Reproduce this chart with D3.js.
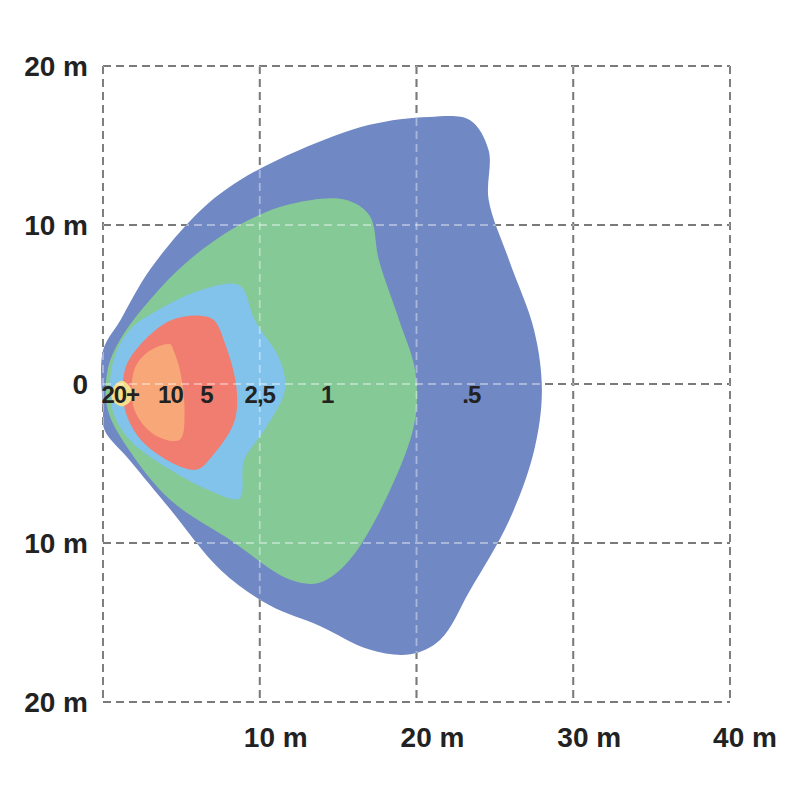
<!DOCTYPE html>
<html><head><meta charset="utf-8">
<script src="https://cdn.jsdelivr.net/npm/d3@7"></script>
<style>body{margin:0;background:#fff}</style>
</head><body>
<svg id="c" width="800" height="800"></svg>
<script>
// zone outlines, [x m, y m]
var zone05 = [[0,2.1],[1.1,4.0],[3,7.2],[6.2,10.9],[8.7,12.8],[12.5,14.7],[17,16.3],[20.8,16.8],[23.4,16.6],[24.6,14.7],[24.6,11.6],[25.9,7.8],[27.5,3.4],[28,-0.4],[27.5,-4.2],[25.9,-8.6],[23.4,-13],[21.5,-16.1],[19.6,-17],[17,-16.7],[13.8,-15.2],[10.6,-13.9],[7.5,-11.7],[4.3,-7.9],[1.7,-4.8],[0.1,-2.9],[0,-1.6]];
var zone1 = [[15.4,11.6],[11.9,11.3],[8.7,10],[5.5,7.8],[3,5.3],[1.1,2.8],[0.3,0.9],[0.3,-1.6],[1.7,-4.2],[4.3,-7.3],[8.1,-9.8],[11.9,-12.3],[13.8,-12.5],[15.7,-11.1],[18.3,-6.7],[19.9,-2.3],[19.9,0.9],[18.9,4],[17.6,7.8],[17,10.6]];
var zone25 = [[8.7,6.2],[6.2,5.9],[3.6,4.7],[1.7,3.4],[0.6,1.2],[0.6,-1.6],[1.7,-3.5],[4.3,-5.4],[6.8,-6.7],[8.7,-7.2],[9.0,-4.8],[10.3,-2.9],[11.6,-0.4],[11.3,1.5],[9.7,4]];
var zone5 = [[6.2,4.3],[4.3,4],[2.4,2.5],[1.4,0.9],[1.4,-1.6],[2.7,-3.8],[5.9,-5.4],[7,-4.5],[8.4,-2.3],[8.5,-0.1],[7.8,2.5],[7.1,4]];
var zone10 = [[4.3,2.5],[3,2.1],[2,0.9],[2,-1.6],[3.3,-3.2],[4.9,-3.5],[5.2,-1.6],[4.9,0.9],[4.5,2.1]];
var zone20 = [[1.2,0.2],[0.6,-0.3],[0.6,-1.0],[1.2,-1.4],[1.8,-1.0],[1.8,-0.3]];
var zones = [zone05, zone1, zone25, zone5, zone10, zone20];
var colors = ["#7088c4","#85c996","#82c3ec","#f17c70","#f8a878","#f5df8c"];
var zoneLabels = ["20+","10","5","2,5","1",".5"];
var labelX = [1.1,4.3,6.6,10,14.3,23.5];
var xTicks = [10,20,30,40];
var yTicks = [20,10,0,-10,-20];

var svg = d3.select("#c");
var x = d3.scaleLinear().domain([0,40]).range([103,730]);
var y = d3.scaleLinear().domain([20,-20]).range([66,702]);
var line = d3.line().x(function(d){return x(d[0]);}).y(function(d){return y(d[1]);}).curve(d3.curveCatmullRomClosed);
var font = "Liberation Sans, Arial, sans-serif";

function grid(col, op){
	var g = svg.append("g").attr("stroke", col).attr("stroke-opacity", op).attr("stroke-width",1.8).attr("stroke-dasharray","8,5").attr("fill","none");
	g.selectAll("line.v").data([0,10,20,30,40]).enter().append("line")
		.attr("x1",function(d){return x(d);}).attr("x2",function(d){return x(d);}).attr("y1",y(20)).attr("y2",y(-20));
	g.selectAll("line.h").data(yTicks).enter().append("line")
		.attr("y1",function(d){return y(d);}).attr("y2",function(d){return y(d);}).attr("x1",x(0)).attr("x2",x(40));
}
grid("#222",1);

svg.selectAll("path.z").data(zones).enter().append("path")
	.attr("d", line).attr("fill", function(d,i){return colors[i];});

grid("#fff",0.4);

svg.selectAll("text.z").data(zoneLabels).enter().append("text")
	.attr("x", function(d,i){return x(labelX[i]);}).attr("y", y(-0.6)+9)
	.attr("text-anchor","middle").attr("font-family",font).attr("letter-spacing",-1)
	.attr("font-weight","bold").attr("font-size",24).attr("fill","#222").text(function(d){return d;});

svg.selectAll("text.y").data(yTicks).enter().append("text")
	.attr("x",88).attr("y",function(d){return y(d)+10;}).attr("text-anchor","end")
	.attr("font-family",font).attr("font-weight","bold").attr("font-size",28).attr("fill","#222")
	.text(function(d){return d==0 ? "0" : Math.abs(d)+" m";});

svg.selectAll("text.x").data(xTicks).enter().append("text")
	.attr("x",function(d){return d==40 ? 745 : x(d)+16;}).attr("y",747).attr("text-anchor","middle")
	.attr("font-family",font).attr("font-weight","bold").attr("font-size",28).attr("fill","#222")
	.text(function(d){return d+" m";});
</script>
</body></html>
